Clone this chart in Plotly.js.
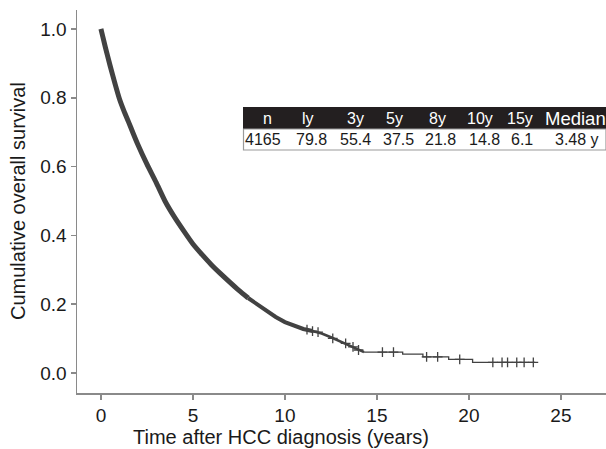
<!DOCTYPE html>
<html>
<head>
<meta charset="utf-8">
<script src="https://cdn.plot.ly/plotly-3.0.1.min.js"></script>
<style>html,body{margin:0;padding:0;background:#fff;}#chart{width:606px;height:449px;}</style>
</head>
<body>
<div id="chart"></div>
<script>
// Kaplan-Meier curve, dense part (years, survival)
const timeDense = [0, 0.1, 0.25, 0.5, 0.75, 1, 1.25, 1.5, 1.75, 2, 2.5, 3, 3.48, 4, 4.5, 5, 5.5, 6, 6.5, 7, 7.5, 8, 8.5, 9, 9.5, 10, 10.5, 11, 11.5, 12, 12.5, 13, 13.5, 14, 14.3];
const survDense = [1.0, 0.978, 0.945, 0.893, 0.844, 0.798, 0.762, 0.730, 0.697, 0.665, 0.607, 0.554, 0.50, 0.453, 0.413, 0.375, 0.344, 0.315, 0.289, 0.264, 0.240, 0.218, 0.199, 0.180, 0.163, 0.148, 0.137, 0.128, 0.122, 0.115, 0.104, 0.092, 0.079, 0.067, 0.061];
// Tail steps
const timeTail = [14.3, 16.4, 17.5, 18.9, 20.2, 23.6];
const survTail = [0.061, 0.055, 0.047, 0.040, 0.031, 0.031];
// Censor marks
const censorTime = [11.2, 11.5, 11.8, 12.6, 13.3, 13.7, 14.0, 15.3, 15.9, 17.7, 18.3, 19.5, 21.3, 21.8, 22.1, 22.6, 23.0, 23.5];
const censorSurv = [0.126, 0.122, 0.119, 0.101, 0.086, 0.076, 0.067, 0.061, 0.061, 0.047, 0.047, 0.040, 0.031, 0.031, 0.031, 0.031, 0.031, 0.031];
// Table
const tableHeaders = ['n', 'ly', '3y', '5y', '8y', '10y', '15y', 'Median'];
const tableValues = ['4165', '79.8', '55.4', '37.5', '21.8', '14.8', '6.1', '3.48 y'];
const xTicks = [0, 5, 10, 15, 20, 25];
const yTicks = [0, 0.2, 0.4, 0.6, 0.8, 1.0];
const xTitle = 'Time after HCC diagnosis (years)';
const yTitle = 'Cumulative overall survival';

const M = {l: 77, r: 0, t: 10, b: 56};
const W = 606, H = 449;
const pw = W - M.l - M.r, ph = H - M.t - M.b;
const px2x = p => (p - M.l) / pw;
const px2y = p => 1 - (p - M.t) / ph;

const lineColor = '#424242';
function seg(a, b) {
  const xs = [], ys = [];
  for (let i = 0; i < timeDense.length; i++) {
    if (timeDense[i] >= a && timeDense[i] <= b) { xs.push(timeDense[i]); ys.push(survDense[i]); }
  }
  return {xs, ys};
}
const s1 = seg(0, 8), s2 = seg(8, 11.5), s3 = seg(11.5, 15);
const traces = [
  {x: s1.xs, y: s1.ys, mode: 'lines', line: {color: lineColor, width: 5, shape: 'spline', smoothing: 0.6}, hoverinfo: 'skip'},
  {x: s2.xs, y: s2.ys, mode: 'lines', line: {color: lineColor, width: 4}, hoverinfo: 'skip'},
  {x: s3.xs, y: s3.ys, mode: 'lines', line: {color: lineColor, width: 2.5}, hoverinfo: 'skip'},
  {x: timeTail, y: survTail, mode: 'lines', line: {color: lineColor, width: 1.3, shape: 'hv'}, hoverinfo: 'skip'},
  {x: censorTime, y: censorSurv, mode: 'markers', marker: {symbol: 'cross-thin', size: 7, line: {color: lineColor, width: 1.3}}, hoverinfo: 'skip'}
];

const headCenters = [267, 308, 355, 394, 437, 480, 520, 575];
const valCenters = [263, 311, 355, 398, 440, 484, 522, 577];
const fam = '"Liberation Sans", Arial, Helvetica, sans-serif';
const annotations = [];
tableHeaders.forEach((h, i) => annotations.push({
  xref: 'paper', yref: 'paper', x: px2x(headCenters[i]), y: px2y(118), text: h, showarrow: false,
  xanchor: 'center', yanchor: 'middle', font: {family: fam, size: h === 'Median' ? 18.5 : 16, color: '#ffffff'}
}));
tableValues.forEach((v, i) => annotations.push({
  xref: 'paper', yref: 'paper', x: px2x(valCenters[i]), y: px2y(140), text: v, showarrow: false,
  xanchor: 'center', yanchor: 'middle', font: {family: fam, size: 16, color: '#1a1a1a'}
}));
annotations.push({
  xref: 'paper', yref: 'paper', x: px2x(281), y: px2y(437), text: xTitle, showarrow: false,
  xanchor: 'center', yanchor: 'middle', font: {family: fam, size: 20, color: '#1a1a1a'}
});
annotations.push({
  xref: 'paper', yref: 'paper', x: px2x(18), y: px2y(201), text: yTitle, showarrow: false, textangle: -90,
  xanchor: 'center', yanchor: 'middle', font: {family: fam, size: 20, color: '#1a1a1a'}
});
const shapes = [
  {type: 'rect', xref: 'paper', yref: 'paper', x0: px2x(243), x1: px2x(606), y0: px2y(107), y1: px2y(129), fillcolor: '#231f20', line: {width: 0}},
  {type: 'rect', xref: 'paper', yref: 'paper', x0: px2x(243.5), x1: px2x(606), y0: px2y(129), y1: px2y(150), fillcolor: '#ffffff', line: {color: '#9a9a9a', width: 1.2}}
];

const axisCommon = {
  showgrid: false, zeroline: false, showline: true, linecolor: '#8a8a8a', linewidth: 1.5,
  ticks: 'outside', ticklen: 5, tickwidth: 1.5, tickcolor: '#8a8a8a',
  tickfont: {family: fam, size: 19, color: '#1a1a1a'}
};
const layout = {
  width: W, height: H, margin: M, paper_bgcolor: '#fff', plot_bgcolor: '#fff', showlegend: false,
  xaxis: Object.assign({}, axisCommon, {
    range: [-1.3, 27.45], tickvals: xTicks, ticktext: xTicks.map(String)
  }),
  yaxis: Object.assign({}, axisCommon, {
    range: [-0.058, 1.055], tickvals: yTicks, ticktext: yTicks.map(v => v.toFixed(1))
  }),
  shapes: shapes, annotations: annotations
};
Plotly.newPlot('chart', traces, layout, {staticPlot: true, displayModeBar: false});
</script>
</body>
</html>
